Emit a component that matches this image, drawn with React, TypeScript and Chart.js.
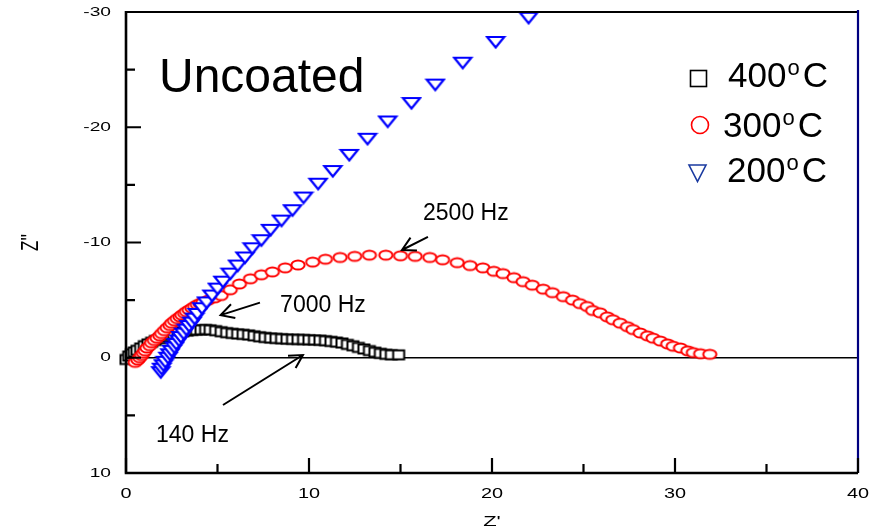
import { useEffect, useRef } from "react";
import { Chart, registerables } from "chart.js";

Chart.register(...registerables);

// Nyquist plot of the uncoated sample: Z' (real part) and Z'' (imaginary part)
const zReal400 = [0.0, 0.15, 0.3, 0.45, 0.6, 0.8, 1.0, 1.2, 1.4, 1.6, 1.85, 2.1, 2.35, 2.6, 2.85, 3.1, 3.35, 3.6, 3.85, 4.1, 4.35, 4.6, 4.9, 5.2, 5.5, 5.8, 6.1, 6.4, 6.7, 7.0, 7.3, 7.6, 7.9, 8.2, 8.5, 8.8, 9.1, 9.4, 9.7, 10.0, 10.3, 10.6, 10.9, 11.2, 11.5, 11.8, 12.1, 12.4, 12.7, 13.0, 13.3, 13.6, 13.9, 14.2, 14.5, 14.9];
const zImag400 = [0.15, -0.15, -0.35, -0.5, -0.65, -0.85, -1.05, -1.2, -1.35, -1.5, -1.65, -1.8, -1.95, -2.05, -2.15, -2.25, -2.32, -2.38, -2.4, -2.42, -2.45, -2.42, -2.35, -2.26, -2.18, -2.12, -2.07, -2.03, -1.98, -1.9, -1.82, -1.76, -1.71, -1.68, -1.65, -1.62, -1.6, -1.59, -1.58, -1.56, -1.54, -1.52, -1.48, -1.42, -1.36, -1.28, -1.16, -1.04, -0.9, -0.76, -0.62, -0.48, -0.38, -0.3, -0.26, -0.25];

const zReal300 = [0.5, 0.65, 0.75, 0.85, 0.95, 1.05, 1.15, 1.3, 1.4, 1.55, 1.7, 1.85, 1.95, 2.1, 2.25, 2.4, 2.5, 2.65, 2.8, 2.95, 3.05, 3.2, 3.3, 3.45, 3.6, 3.75, 3.9, 4.05, 4.2, 4.5, 4.85, 5.2, 5.7, 6.2, 6.8, 7.4, 8.0, 8.7, 9.4, 10.2, 10.9, 11.7, 12.5, 13.3, 14.2, 15.0, 15.8, 16.6, 17.3, 18.1, 18.8, 19.5, 20.1, 20.6, 21.2, 21.7, 22.2, 22.8, 23.3, 23.9, 24.4, 24.8, 25.2, 25.5, 25.9, 26.3, 26.6, 27.0, 27.4, 27.7, 28.1, 28.5, 28.8, 29.2, 29.6, 29.9, 30.3, 30.7, 31.0, 31.4, 31.9];
const zImag300 = [0.4, 0.2, 0.0, -0.2, -0.4, -0.6, -0.85, -1.05, -1.3, -1.5, -1.7, -1.9, -2.1, -2.35, -2.6, -2.8, -3.0, -3.2, -3.4, -3.55, -3.7, -3.85, -4.0, -4.15, -4.3, -4.45, -4.6, -4.7, -4.8, -5.0, -5.2, -5.4, -5.9, -6.4, -6.85, -7.2, -7.45, -7.8, -8.05, -8.3, -8.55, -8.7, -8.8, -8.9, -8.9, -8.85, -8.8, -8.7, -8.5, -8.25, -8.0, -7.8, -7.5, -7.3, -6.95, -6.6, -6.3, -5.95, -5.65, -5.3, -5.0, -4.7, -4.45, -4.1, -3.9, -3.55, -3.3, -3.0, -2.7, -2.45, -2.15, -1.9, -1.7, -1.45, -1.2, -1.0, -0.85, -0.6, -0.45, -0.35, -0.3];

const zReal200 = [1.9, 1.95, 2.05, 2.15, 2.3, 2.4, 2.5, 2.65, 2.75, 2.9, 3.0, 3.15, 3.3, 3.45, 3.6, 3.75, 3.9, 4.15, 4.4, 4.7, 5.0, 5.3, 5.7, 6.1, 6.5, 6.9, 7.4, 7.9, 8.5, 9.1, 9.7, 10.5, 11.3, 12.2, 13.2, 14.3, 15.6, 16.9, 18.4, 20.2, 22.0];
const zImag200 = [1.25, 0.95, 0.65, 0.35, 0.0, -0.3, -0.6, -0.9, -1.2, -1.5, -1.8, -2.1, -2.45, -2.75, -3.05, -3.4, -3.8, -4.3, -4.8, -5.4, -6.0, -6.6, -7.3, -8.0, -8.7, -9.5, -10.2, -11.1, -11.9, -12.8, -13.9, -15.1, -16.2, -17.6, -19.0, -20.5, -22.1, -23.7, -25.6, -27.4, -29.5];

const xTickValues = [0, 10, 20, 30, 40];
const xMinorTicks = [5, 15, 25, 35];
const yTickValues = [-30, -20, -10, 0, 10];
const yMinorTicks = [-25, -15, -5, 5];

const seriesTemps = ["400", "300", "200"];
const sampleLabel = "Uncoated";

// frequency callouts: label anchor (left, baseline) and arrow tail -> head, in data units
const freqNotes = [
  { text: "2500 Hz", at: [16.23, -11.93], from: [16.5, -10.48], to: [15.08, -9.35] },
  { text: "7000 Hz", at: [8.42, -3.97], from: [7.32, -4.78], to: [5.17, -3.7] },
  { text: "140 Hz", at: [1.64, 7.31], from: [5.3, 4.1], to: [9.67, -0.24] },
];

const FONT = '"Liberation Sans", Arial, Helvetica, sans-serif';
const STRETCH = 1.42;
const NAVY = "#000080";

function makeMarker(w: number, h: number, paint: (g: CanvasRenderingContext2D) => void) {
  const c = document.createElement("canvas");
  c.width = w;
  c.height = h;
  const g = c.getContext("2d")!;
  paint(g);
  return c;
}

function stretchedText(
  ctx: CanvasRenderingContext2D,
  text: string,
  x: number,
  y: number,
  size: number,
  align: CanvasTextAlign,
  rotate = 0
) {
  ctx.save();
  ctx.translate(x, y);
  ctx.scale(STRETCH, 1);
  ctx.rotate(rotate);
  ctx.font = `${size}px ${FONT}`;
  ctx.textAlign = align;
  ctx.textBaseline = "middle";
  ctx.fillStyle = "#000";
  ctx.fillText(text, 0, 0);
  ctx.restore();
}

function arrow(ctx: CanvasRenderingContext2D, x1: number, y1: number, x2: number, y2: number) {
  const ang = Math.atan2(y2 - y1, x2 - x1);
  const head = 15;
  const spread = 0.5;
  ctx.beginPath();
  ctx.moveTo(x1, y1);
  ctx.lineTo(x2, y2);
  ctx.moveTo(x2 - head * Math.cos(ang - spread), y2 - head * Math.sin(ang - spread));
  ctx.lineTo(x2, y2);
  ctx.lineTo(x2 - head * Math.cos(ang + spread), y2 - head * Math.sin(ang + spread));
  ctx.stroke();
}

const decorations = {
  id: "decorations",
  beforeDatasetsDraw(chart: any) {
    const { ctx, chartArea: a, scales } = chart;
    const y0 = scales.y.getPixelForValue(0);
    ctx.save();
    ctx.strokeStyle = "#000";
    ctx.lineWidth = 1.6;
    ctx.beginPath();
    ctx.moveTo(a.left, y0);
    ctx.lineTo(a.right, y0);
    ctx.stroke();
    ctx.restore();
  },
  afterDatasetsDraw(chart: any) {
    const { ctx, chartArea: a, scales } = chart;
    const sx = scales.x;
    const sy = scales.y;
    ctx.save();

    // frame: top black, right navy, thick left and bottom axes
    ctx.strokeStyle = "#000";
    ctx.lineWidth = 2;
    ctx.beginPath();
    ctx.moveTo(a.left, a.top);
    ctx.lineTo(a.right, a.top);
    ctx.stroke();
    ctx.strokeStyle = NAVY;
    ctx.lineWidth = 2.2;
    ctx.beginPath();
    ctx.moveTo(a.right, a.top - 2);
    ctx.lineTo(a.right, a.bottom);
    ctx.stroke();
    ctx.strokeStyle = "#000";
    ctx.lineWidth = 2.6;
    ctx.beginPath();
    ctx.moveTo(a.left, a.top - 1);
    ctx.lineTo(a.left, a.bottom);
    ctx.lineTo(a.right, a.bottom);
    ctx.stroke();

    // inward tick marks
    ctx.lineWidth = 2.2;
    ctx.beginPath();
    for (const v of yTickValues) {
      const p = sy.getPixelForValue(v);
      ctx.moveTo(a.left, p);
      ctx.lineTo(a.left + 15, p);
    }
    for (const v of yMinorTicks) {
      const p = sy.getPixelForValue(v);
      ctx.moveTo(a.left, p);
      ctx.lineTo(a.left + 9, p);
    }
    for (const v of xTickValues) {
      const p = sx.getPixelForValue(v);
      ctx.moveTo(p, a.bottom);
      ctx.lineTo(p, a.bottom - 15);
    }
    for (const v of xMinorTicks) {
      const p = sx.getPixelForValue(v);
      ctx.moveTo(p, a.bottom);
      ctx.lineTo(p, a.bottom - 9);
    }
    ctx.stroke();

    // tick labels
    for (const t of sy.ticks) {
      stretchedText(ctx, String(t.value), a.left - 15, sy.getPixelForValue(t.value), 13.5, "right");
    }
    for (const t of sx.ticks) {
      stretchedText(ctx, String(t.value), sx.getPixelForValue(t.value), a.bottom + 21, 14, "center");
    }

    // axis titles
    stretchedText(ctx, "Z'", (a.left + a.right) / 2, a.bottom + 49, 15.5, "center");
    stretchedText(ctx, "Z''", 31, sy.getPixelForValue(-10), 17, "center", -Math.PI / 2);

    // sample label
    ctx.fillStyle = "#000";
    ctx.font = `48px ${FONT}`;
    ctx.textAlign = "left";
    ctx.textBaseline = "alphabetic";
    ctx.fillText(sampleLabel, 159, 92);

    // frequency callouts
    ctx.font = `23px ${FONT}`;
    ctx.lineWidth = 2;
    ctx.strokeStyle = "#000";
    for (const n of freqNotes) {
      ctx.fillText(n.text, sx.getPixelForValue(n.at[0]), sy.getPixelForValue(n.at[1]));
      arrow(
        ctx,
        sx.getPixelForValue(n.from[0]),
        sy.getPixelForValue(n.from[1]),
        sx.getPixelForValue(n.to[0]),
        sy.getPixelForValue(n.to[1])
      );
    }

    // legend
    ctx.lineWidth = 1.6;
    ctx.strokeStyle = "#000";
    ctx.strokeRect(690.5, 70.5, 16, 16);
    ctx.strokeStyle = "#ff0000";
    ctx.beginPath();
    ctx.arc(700, 125, 8.5, 0, Math.PI * 2);
    ctx.stroke();
    ctx.strokeStyle = "#1a3aa0";
    ctx.beginPath();
    ctx.moveTo(689, 165);
    ctx.lineTo(706, 165);
    ctx.lineTo(697.5, 181.5);
    ctx.closePath();
    ctx.stroke();

    const rows = [
      { x: 728, base: 87 },
      { x: 723, base: 137 },
      { x: 727, base: 182 },
    ];
    seriesTemps.forEach((temp, i) => {
      const r = rows[i];
      ctx.fillStyle = "#000";
      ctx.font = `35px ${FONT}`;
      ctx.fillText(temp, r.x, r.base);
      let cx = r.x + ctx.measureText(temp).width + 1;
      ctx.font = `22px ${FONT}`;
      ctx.fillText("o", cx, r.base - 12);
      cx += ctx.measureText("o").width + 3;
      ctx.font = `35px ${FONT}`;
      ctx.fillText("C", cx, r.base);
    });

    ctx.restore();
  },
};

export default function App() {
  const canvasRef = useRef<HTMLCanvasElement | null>(null);

  useEffect(() => {
    const canvas = canvasRef.current;
    if (!canvas) return;

    const square = makeMarker(16, 14, (g) => {
      g.fillStyle = "#fff";
      g.strokeStyle = "#000";
      g.lineWidth = 2;
      g.fillRect(2.5, 2.5, 11, 9);
      g.strokeRect(2.5, 2.5, 11, 9);
    });
    const ring = makeMarker(18, 14, (g) => {
      g.fillStyle = "#fff";
      g.strokeStyle = "#ff0000";
      g.lineWidth = 2;
      g.beginPath();
      g.ellipse(9, 7, 6.6, 4.6, 0, 0, Math.PI * 2);
      g.fill();
      g.stroke();
    });
    const tri = makeMarker(22, 16, (g) => {
      g.fillStyle = "#fff";
      g.strokeStyle = "#0000ff";
      g.lineWidth = 2.2;
      g.beginPath();
      g.moveTo(2.5, 3);
      g.lineTo(19.5, 3);
      g.lineTo(11, 13.5);
      g.closePath();
      g.fill();
      g.stroke();
    });

    const toPoints = (xs: number[], ys: number[]) => xs.map((x, i) => ({ x, y: ys[i] }));

    const chart = new Chart(canvas, {
      type: "scatter",
      data: {
        datasets: [
          {
            label: "200",
            data: toPoints(zReal200, zImag200),
            pointStyle: tri as any,
            pointRadius: 6,
            order: 1,
            clip: false as any,
          },
          {
            label: "300",
            data: toPoints(zReal300, zImag300),
            pointStyle: ring as any,
            pointRadius: 6,
            order: 2,
            clip: false as any,
          },
          {
            label: "400",
            data: toPoints(zReal400, zImag400),
            pointStyle: square as any,
            pointRadius: 6,
            order: 3,
            clip: false as any,
          },
        ],
      },
      options: {
        animation: false,
        responsive: false,
        maintainAspectRatio: false,
        events: [],
        layout: { padding: { top: 12, right: 17, left: 0, bottom: 0 } },
        plugins: { legend: { display: false }, tooltip: { enabled: false } },
        scales: {
          x: {
            type: "linear",
            position: "bottom",
            min: 0,
            max: 40,
            grid: { display: false, drawTicks: false },
            border: { display: false },
            ticks: { display: false },
            afterBuildTicks: (s: any) => {
              s.ticks = xTickValues.map((value) => ({ value }));
            },
            afterFit: (s: any) => {
              s.height = 58;
            },
          },
          y: {
            type: "linear",
            position: "left",
            min: -30,
            max: 10,
            reverse: true,
            grid: { display: false, drawTicks: false },
            border: { display: false },
            ticks: { display: false },
            afterBuildTicks: (s: any) => {
              s.ticks = yTickValues.map((value) => ({ value }));
            },
            afterFit: (s: any) => {
              s.width = 126;
            },
          },
        },
      },
      plugins: [decorations],
    });

    return () => chart.destroy();
  }, []);

  return (
    <div style={{ position: "absolute", left: 0, top: 0, width: 875, height: 531, background: "#fff" }}>
      <canvas ref={canvasRef} width={875} height={531} style={{ display: "block" }} />
    </div>
  );
}
